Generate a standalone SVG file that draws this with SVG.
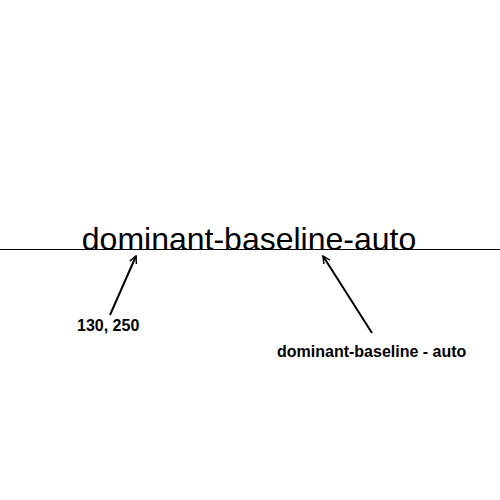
<svg xmlns="http://www.w3.org/2000/svg" width="500" height="500" viewBox="0 0 500 500">
<style>
.main{font-family:"Liberation Sans",Arial,sans-serif;font-size:32px;fill:#000}
.lbl{font-family:"Liberation Sans",Arial,sans-serif;font-size:16px;font-weight:bold;fill:#000}
.arr{stroke:#000;stroke-width:2;fill:none}
</style>
<defs>
<marker id="ah" viewBox="0 0 10 10" refX="9" refY="5" markerWidth="9" markerHeight="9" orient="auto" markerUnits="userSpaceOnUse">
<path d="M1,1 L9,5 L1,9" fill="none" stroke="#000" stroke-width="1.6"/>
</marker>
</defs>
<g id="baseline-line"><line x1="0" y1="249.5" x2="500" y2="249.5" stroke="#000" stroke-width="1"/></g>
<g id="main-text"><text class="main" x="249" y="250" text-anchor="middle">dominant-baseline-auto</text></g>
<g id="connectors">
<line class="arr" x1="110" y1="315" x2="136" y2="256" marker-end="url(#ah)"/>
<line class="arr" x1="372" y1="333" x2="323" y2="256" marker-end="url(#ah)"/>
</g>
<g id="label-coords"><text class="lbl" x="77" y="331">130, 250</text></g>
<g id="label-auto"><text class="lbl" x="277" y="357">dominant-baseline - auto</text></g>
</svg>
